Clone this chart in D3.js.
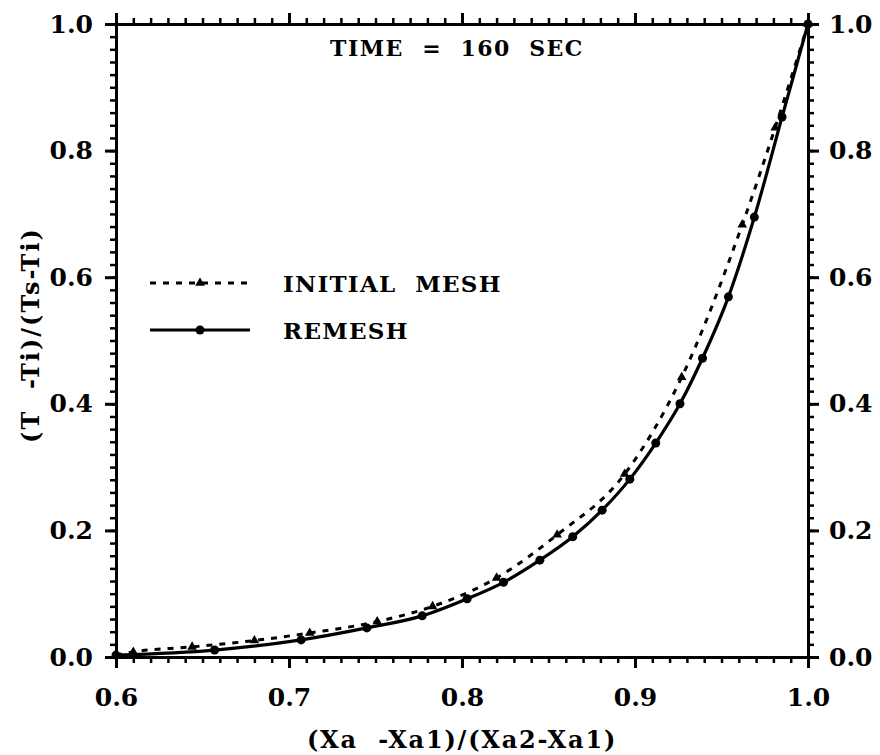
<!DOCTYPE html>
<html>
<head>
<meta charset="utf-8">
<script src="https://cdn.jsdelivr.net/npm/d3@7/dist/d3.min.js"></script>
<style>
  html, body { margin: 0; padding: 0; background: #fff; }
  svg { display: block; }
  text { font-family: "DejaVu Serif", "Liberation Serif", serif; font-weight: bold; fill: #000; }
</style>
</head>
<body>
<svg id="chart" width="880" height="755"></svg>
<script>
// ---- data ----
const initialX = [0.600, 0.610, 0.644, 0.680, 0.712, 0.751, 0.783, 0.820, 0.855, 0.894, 0.927, 0.962, 0.981, 1.000];
const initialY = [0.003, 0.008, 0.016, 0.026, 0.038, 0.056, 0.080, 0.125, 0.193, 0.289, 0.442, 0.683, 0.836, 1.000];
const remeshX = [0.600, 0.657, 0.707, 0.745, 0.777, 0.803, 0.824, 0.845, 0.864, 0.881, 0.897, 0.912, 0.926, 0.939, 0.954, 0.969, 0.985, 1.000];
const remeshY = [0.003, 0.011, 0.027, 0.046, 0.065, 0.092, 0.118, 0.153, 0.190, 0.232, 0.281, 0.338, 0.400, 0.472, 0.569, 0.695, 0.853, 1.000];
const xTicks = [0.6, 0.7, 0.8, 0.9, 1.0];
const yTicks = [0.0, 0.2, 0.4, 0.6, 0.8, 1.0];
const titleText = "TIME  =  160  SEC";
const xLabel = "(Xa  -Xa1)/(Xa2-Xa1)";
const yLabel = "(T  -Ti)/(Ts-Ti)";
const legendLabels = ["INITIAL  MESH", "REMESH"];

// ---- layout ----
const L = 116, R = 808, T = 24, B = 657;
const svg = d3.select("#chart");
const x = d3.scaleLinear().domain([0.6, 1.0]).range([L, R]);
const y = d3.scaleLinear().domain([0, 1]).range([B, T]);

const xMinor = d3.range(60, 101).map(d => d / 100);
const yMinor = d3.range(0, 51).map(d => d / 50);

function styleAxis(g, w) {
  g.selectAll(".domain").attr("stroke", "#000").attr("stroke-width", 3);
  g.selectAll(".tick line").attr("stroke", "#000").attr("stroke-width", w);
}

// minor ticks
[[d3.axisBottom(x), B], [d3.axisTop(x), T]].forEach(([ax, pos]) => {
  const g = svg.append("g").attr("transform", `translate(0,${pos})`)
    .call(ax.tickValues(xMinor).tickSize(6).tickSizeOuter(0).tickFormat(""));
  styleAxis(g, 2.5);
});
[[d3.axisLeft(y), L], [d3.axisRight(y), R]].forEach(([ax, pos]) => {
  const g = svg.append("g").attr("transform", `translate(${pos},0)`)
    .call(ax.tickValues(yMinor).tickSize(6).tickSizeOuter(0).tickFormat(""));
  styleAxis(g, 2.5);
});

// major ticks with labels
const fmt = d3.format(".1f");
const gxb = svg.append("g").attr("transform", `translate(0,${B})`)
  .call(d3.axisBottom(x).tickValues(xTicks).tickSize(11).tickSizeOuter(0).tickPadding(20).tickFormat(fmt));
styleAxis(gxb, 3);
const gxt = svg.append("g").attr("transform", `translate(0,${T})`)
  .call(d3.axisTop(x).tickValues(xTicks).tickSize(11).tickSizeOuter(0).tickFormat(""));
styleAxis(gxt, 3);
const gyl = svg.append("g").attr("transform", `translate(${L},0)`)
  .call(d3.axisLeft(y).tickValues(yTicks).tickSize(11).tickSizeOuter(0).tickPadding(12).tickFormat(fmt));
styleAxis(gyl, 3);
const gyr = svg.append("g").attr("transform", `translate(${R},0)`)
  .call(d3.axisRight(y).tickValues(yTicks).tickSize(11).tickSizeOuter(0).tickPadding(10).tickFormat(fmt));
styleAxis(gyr, 3);

svg.selectAll(".tick text")
  .style("font-family", '"DejaVu Serif", serif')
  .style("font-weight", "bold")
  .style("font-size", "25px")
  .attr("fill", "#000");

// ---- lines ----
const initData = initialX.map((d, i) => [d, initialY[i]]);
const remData = remeshX.map((d, i) => [d, remeshY[i]]);
const line = d3.line().x(d => x(d[0])).y(d => y(d[1])).curve(d3.curveMonotoneX);

svg.append("path").datum(initData).attr("d", line)
  .attr("fill", "none").attr("stroke", "#000").attr("stroke-width", 3)
  .attr("stroke-dasharray", "6,7");
svg.append("path").datum(remData).attr("d", line)
  .attr("fill", "none").attr("stroke", "#000").attr("stroke-width", 3.2);

const tri = d3.symbol().type(d3.symbolTriangle).size(40);
svg.append("g").selectAll("path").data(initData.slice(1)).join("path")
  .attr("d", tri).attr("transform", d => `translate(${x(d[0])},${y(d[1])})`).attr("fill", "#000");
svg.append("g").selectAll("circle").data(remData).join("circle")
  .attr("cx", d => x(d[0])).attr("cy", d => y(d[1])).attr("r", 4.5).attr("fill", "#000");

// ---- legend ----
const legY = [283, 330];
svg.append("line").attr("x1", 150).attr("x2", 250).attr("y1", legY[0]).attr("y2", legY[0])
  .attr("stroke", "#000").attr("stroke-width", 3).attr("stroke-dasharray", "6,7");
svg.append("path").attr("d", tri).attr("transform", `translate(200,${legY[0]})`).attr("fill", "#000");
svg.append("line").attr("x1", 150).attr("x2", 250).attr("y1", legY[1]).attr("y2", legY[1])
  .attr("stroke", "#000").attr("stroke-width", 3.2);
svg.append("circle").attr("cx", 200).attr("cy", legY[1]).attr("r", 4.5).attr("fill", "#000");
legendLabels.forEach((t, i) => {
  svg.append("text").attr("x", 283).attr("y", legY[i] + 9).attr("font-size", 23)
    .attr("letter-spacing", 1.3).style("white-space", "pre").text(t);
});

// ---- titles ----
svg.append("text").attr("x", 457).attr("y", 56).attr("text-anchor", "middle")
  .attr("font-size", 22).attr("letter-spacing", 1.5).style("white-space", "pre").text(titleText);
svg.append("text").attr("x", 462).attr("y", 748).attr("text-anchor", "middle")
  .attr("font-size", 24).attr("letter-spacing", 1.8).style("white-space", "pre").text(xLabel);
svg.append("text").attr("transform", "translate(39,335) rotate(-90)").attr("text-anchor", "middle")
  .attr("font-size", 24).attr("letter-spacing", 2).style("white-space", "pre").text(yLabel);
</script>
</body>
</html>
